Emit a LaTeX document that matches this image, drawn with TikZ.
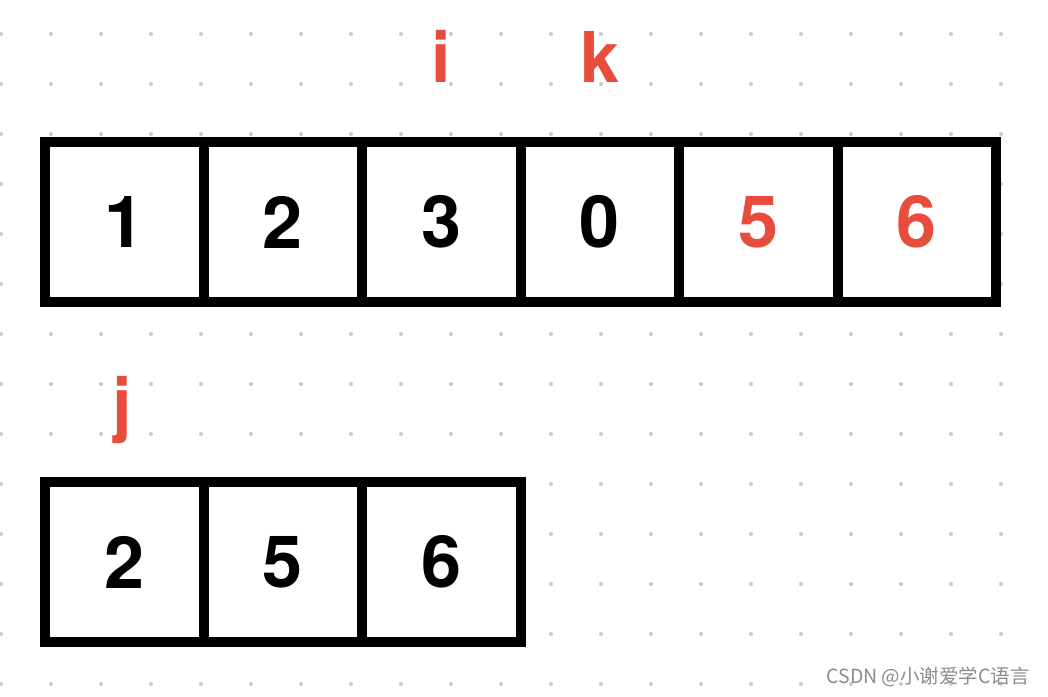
\documentclass[tikz,border=0pt]{standalone}
\usepackage{fontspec}
\setmainfont{TeX Gyre Heros}
\newfontfamily\cjkfont{Noto Sans CJK SC}
\definecolor{zeigerrot}{RGB}{231,76,60}
\definecolor{punktgrau}{RGB}{200,200,200}
\definecolor{markegrau}{RGB}{140,140,140}

\begin{document}
\begin{tikzpicture}[x=1pt, y=-1pt,
	zelle/.style={draw=black, fill=white, line width=10pt, minimum width=158.5pt, minimum height=160pt, inner sep=0pt, font=\fontsize{72}{72}\selectfont\bfseries},
	zeiger/.style={text=zeigerrot, anchor=base, inner sep=0pt, font=\fontsize{70}{70}\selectfont\bfseries}]
	% hintergrund und rand
	\fill[white] (0,0) rectangle (1048,696);
	\useasboundingbox (0,0) rectangle (1048,696);
	% das punktraster
	\foreach \x in {1,51,...,1001}
		\foreach \y in {34,84,...,684}
			\fill[punktgrau] (\x,\y) circle (2pt);
	% obere reihe
	\node[zelle] (a1) at (124.25,222) {1};
	\node[zelle] (a2) at (282.75,222) {2};
	\node[zelle] (a3) at (441.25,222) {3};
	\node[zelle] (a4) at (599.75,222) {0};
	\node[zelle, text=zeigerrot] (a5) at (758.25,222) {5};
	\node[zelle, text=zeigerrot] (a6) at (916.75,222) {6};
	% untere reihe
	\node[zelle] (b1) at (124.25,562) {2};
	\node[zelle] (b2) at (282.75,562) {5};
	\node[zelle] (b3) at (441.25,562) {6};
	% die zeiger
	\node[zeiger] (i) at (441,82) {i};
	\node[zeiger] (k) at (600,82) {k};
	\node[zeiger] (j) at (122,428) {j};
	% wasserzeichen
	\node[anchor=base east, inner sep=0pt, text=markegrau, font=\cjkfont\fontsize{19.5}{22}\selectfont] (marke) at (1030,683) {CSDN @小谢爱学C语言};
\end{tikzpicture}
\end{document}
